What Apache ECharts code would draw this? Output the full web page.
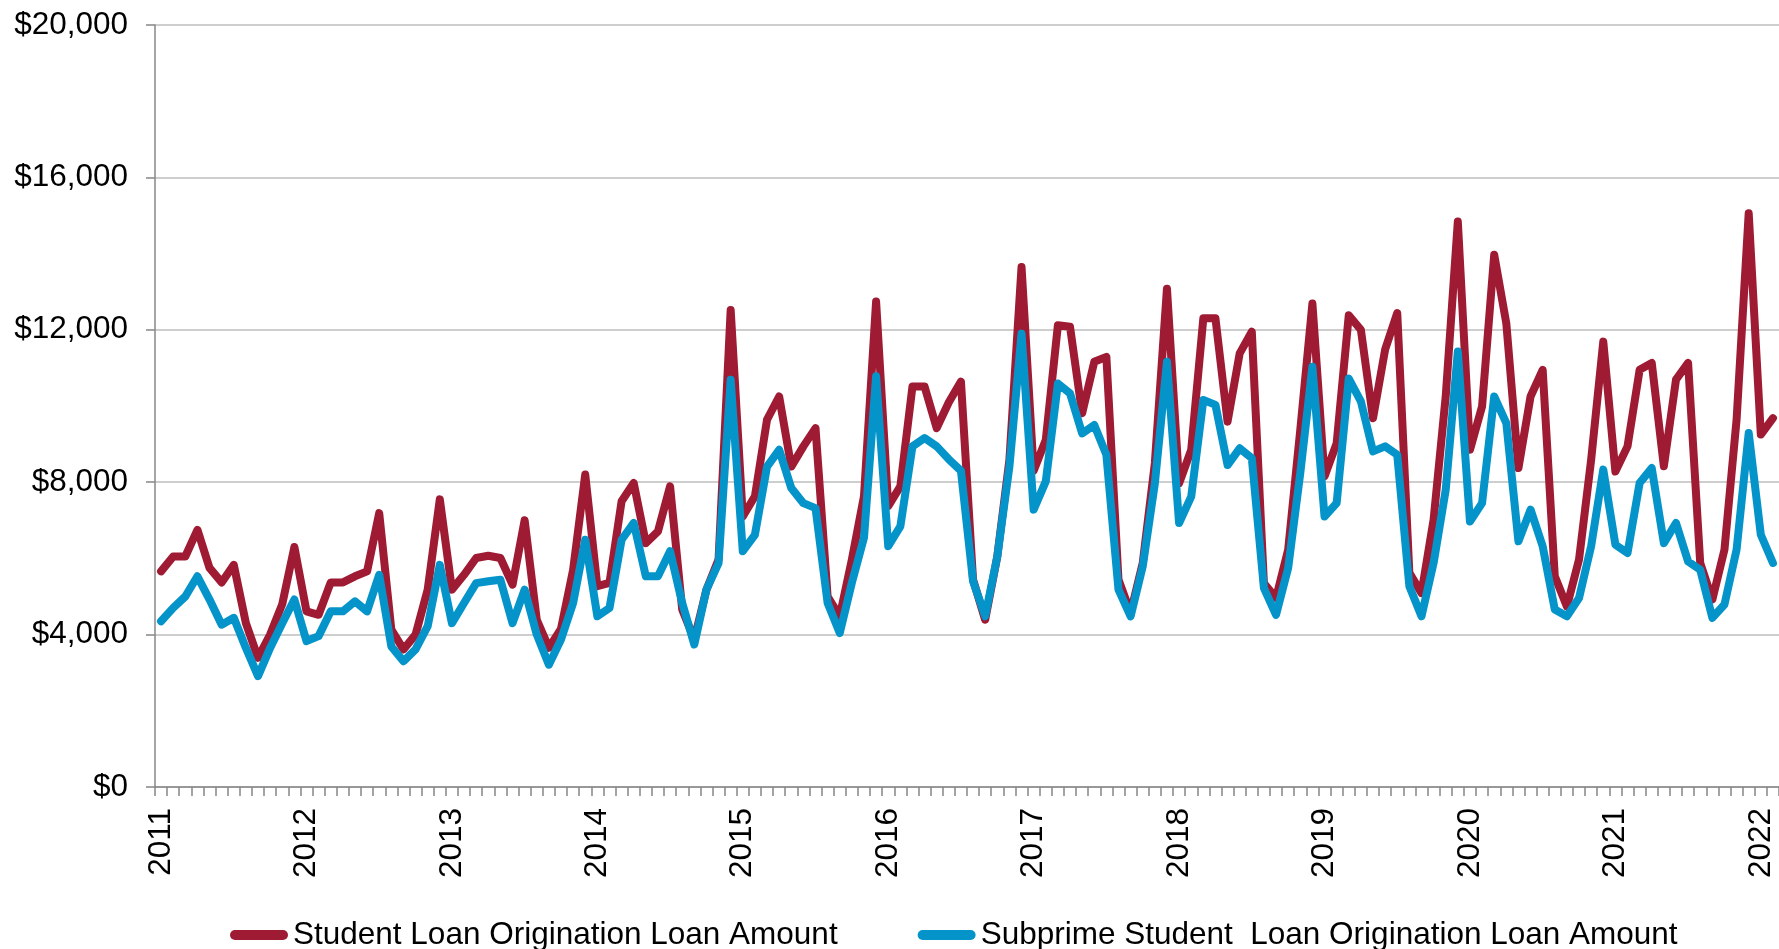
<!DOCTYPE html>
<html>
<head>
<meta charset="utf-8">
<script src="https://cdn.jsdelivr.net/npm/echarts@6/dist/echarts.min.js"></script>
<style>
  html, body { margin: 0; padding: 0; background: #fff; }
  #chart { width: 1779px; height: 949px; }
</style>
</head>
<body>
<div id="chart"></div>
<script>
// monthly, Jan 2011 .. Feb 2022
const years = ['2011', '2012', '2013', '2014', '2015', '2016', '2017', '2018', '2019', '2020', '2021', '2022']
const monthNames = ['Jan', 'Feb', 'Mar', 'Apr', 'May', 'Jun', 'Jul', 'Aug', 'Sep', 'Oct', 'Nov', 'Dec']
const lastMonthCount = 2

const studentLoan = [
  5660, 6050, 6050, 6750, 5750, 5370, 5830, 4300, 3390, 4000, 4800, 6300,
  4610, 4520, 5370, 5370, 5530, 5660, 7190, 4130, 3610, 4000, 5180, 7550,
  5180, 5570, 6010, 6070, 6010, 5310, 7000, 4390, 3650, 4150, 5700, 8200,
  5270, 5360, 7500, 7980, 6400, 6710, 7890, 4660, 3870, 5180, 5970, 12520,
  7100, 7630, 9640, 10250, 8410, 8940, 9420, 5000, 4480, 5970, 7630, 12740,
  7370, 7890, 10510, 10510, 9420, 10100, 10640, 5440, 4390, 6050, 8590, 13650,
  8300, 9110, 12120, 12080, 9810, 11160, 11290, 5440, 4570, 5880, 8500, 13080,
  7970, 8850, 12300, 12300, 9590, 11380, 11950, 5350, 4960, 6230, 9370, 12690,
  8150, 9020, 12380, 12000, 9680, 11480, 12440, 5620, 5090, 7020, 10250, 14840,
  8850, 9990, 13970, 12170, 8370, 10250, 10950, 5530, 4740, 5970, 8590, 11690,
  8280, 8940, 10950, 11130, 8420, 10690, 11130, 5880, 4920, 6230, 9640, 15060,
  9250, 9680
]

const subprimeLoan = [
  4350, 4700, 5000, 5530, 4920, 4260, 4440, 3650, 2910, 3650, 4300, 4920,
  3830, 3960, 4610, 4610, 4870, 4610, 5570, 3690, 3300, 3610, 4220, 5830,
  4300, 4830, 5350, 5400, 5440, 4300, 5180, 4000, 3210, 3870, 4830, 6490,
  4480, 4700, 6490, 6930, 5530, 5530, 6190, 4830, 3740, 5180, 5880, 10690,
  6190, 6620, 8410, 8850, 7850, 7450, 7320, 4830, 4040, 5360, 6540, 10780,
  6320, 6840, 8940, 9160, 8940, 8600, 8300, 5400, 4480, 6050, 8410, 11900,
  7280, 8020, 10590, 10330, 9280, 9500, 8720, 5180, 4480, 5790, 7970, 11160,
  6930, 7620, 10160, 10030, 8450, 8890, 8630, 5220, 4520, 5750, 8240, 11030,
  7100, 7450, 10720, 10120, 8810, 8940, 8720, 5270, 4480, 5880, 7800, 11430,
  6970, 7450, 10250, 9550, 6450, 7280, 6320, 4660, 4480, 4960, 6320, 8330,
  6360, 6140, 7980, 8370, 6400, 6930, 5920, 5700, 4440, 4790, 6230, 9290,
  6620, 5880
]

const seriesNames = [
  'Student Loan Origination Loan Amount',
  'Subprime Student  Loan Origination Loan Amount'
]
const seriesColors = ['#9E1B33', '#0494C9']

const yTicks = { min: 0, max: 20000, interval: 4000 }

// category labels (one per month)
const months = []
years.forEach((y, yi) => {
  const n = yi === years.length - 1 ? lastMonthCount : 12
  for (let m = 0; m < n; m++) months.push(monthNames[m] + ' ' + y)
})

const font = 'Liberation Sans, Arial, sans-serif'
const capsule = 'path://M5,0 H53 A5,5 0 0 1 53,10 H5 A5,5 0 0 1 5,0 Z'

const chart = echarts.init(document.getElementById('chart'))

const option = {
  animation: false,
  backgroundColor: '#fff',
  textStyle: { fontFamily: font },
  grid: {
    left: 155,
    top: 25,
    width: 1626,
    height: 762
  },
  legend: {
    left: 225,
    top: 914,
    itemWidth: 58,
    itemHeight: 11,
    itemGap: 80,
    icon: capsule,
    textStyle: { fontSize: 31.5, color: '#000', fontFamily: font },
    data: seriesNames
  },
  xAxis: {
    type: 'category',
    data: months,
    boundaryGap: true,
    axisLine: { show: true, lineStyle: { color: '#878787', width: 1.5 } },
    axisTick: {
      show: true,
      interval: 0,
      length: 9,
      lineStyle: { color: '#878787', width: 1.5 }
    },
    axisLabel: {
      interval: (idx) => idx % 12 === 0,
      formatter: (v) => v.split(' ')[1],
      rotate: 90,
      margin: 21,
      fontSize: 31.5,
      color: '#000',
      fontFamily: font
    },
    splitLine: { show: false }
  },
  yAxis: {
    type: 'value',
    min: yTicks.min,
    max: yTicks.max,
    interval: yTicks.interval,
    axisLine: { show: true, lineStyle: { color: '#878787', width: 1.5 } },
    axisTick: { show: true, length: 9, lineStyle: { color: '#878787', width: 1.5 } },
    axisLabel: {
      margin: 27,
      fontSize: 31.5,
      color: '#000',
      fontFamily: font,
      formatter: (v) => '$' + v.toLocaleString('en-US')
    },
    splitLine: { lineStyle: { color: '#BEBEBE', width: 1.5 } }
  },
  series: [
    {
      name: seriesNames[0],
      type: 'line',
      data: studentLoan,
      symbol: 'none',
      itemStyle: { color: seriesColors[0] },
      lineStyle: { color: seriesColors[0], width: 8, join: 'round', cap: 'round' }
    },
    {
      name: seriesNames[1],
      type: 'line',
      data: subprimeLoan,
      symbol: 'none',
      itemStyle: { color: seriesColors[1] },
      lineStyle: { color: seriesColors[1], width: 8, join: 'round', cap: 'round' }
    }
  ]
}

chart.setOption(option)
</script>
</body>
</html>
